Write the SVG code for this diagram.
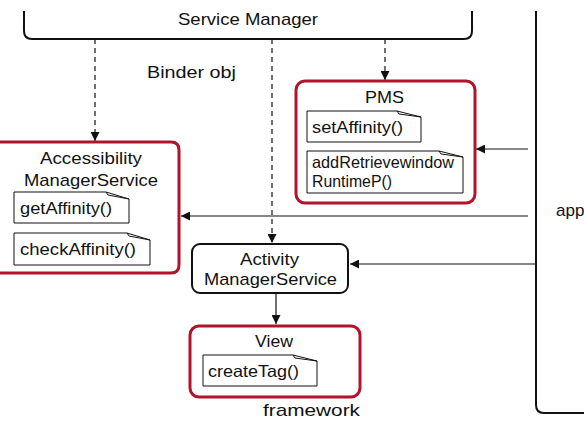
<svg xmlns="http://www.w3.org/2000/svg" width="584" height="421" viewBox="0 0 584 421">
<defs>
<style>
text{font-family:"Liberation Sans",Arial,sans-serif;fill:#111;font-size:17px;}
.n{font-size:16.5px;}
.red{fill:#fff;stroke:#b3122b;stroke-width:3;}
.blk{fill:#fff;stroke:#111;stroke-width:2;}
.note{fill:#fff;stroke:#111;stroke-width:1;}
.fold{fill:none;stroke:#111;stroke-width:1;}
.c{fill:none;stroke:#111;stroke-width:1.2;}
.d{fill:none;stroke:#111;stroke-width:1.2;stroke-dasharray:5,4;}
</style>
<marker id="ah" viewBox="0 0 10 10" refX="10" refY="5" markerWidth="9" markerHeight="9" markerUnits="userSpaceOnUse" orient="auto">
<path d="M0,0 L10,5 L0,10 Z" fill="#111"/>
</marker>
</defs>
<rect width="584" height="421" fill="#fff"/>

<g id="service-manager">
<path class="blk" fill="none" d="M24,11 V31 Q24,39 32,39 H464 Q472,39 472,31 V11"/>
<text x="178" y="25" textLength="140" lengthAdjust="spacingAndGlyphs">Service Manager</text>
</g>

<g id="app">
<path class="blk" fill="none" d="M536,11 V405 Q536,413 544,413 H586"/>
<text x="556" y="216">app</text>
</g>

<g id="connectors">
<path class="d" d="M95,39 V141" marker-end="url(#ah)"/>
<path class="d" d="M272,39 V243" marker-end="url(#ah)"/>
<path class="d" d="M385,39 V80" marker-end="url(#ah)"/>
<path class="c" d="M528,149 H476" marker-end="url(#ah)"/>
<path class="c" d="M528,216 H181" marker-end="url(#ah)"/>
<path class="c" d="M536,264 H350" marker-end="url(#ah)"/>
<path class="c" d="M276,293 V324" marker-end="url(#ah)"/>
</g>

<text x="147" y="77.5" textLength="89" lengthAdjust="spacingAndGlyphs">Binder obj</text>

<g id="accessibility">
<path class="red" d="M-10,142 H171 Q179,142 179,150 V265 Q179,273 171,273 H-10 Z"/>
<text x="40" y="164" textLength="102" lengthAdjust="spacingAndGlyphs">Accessibility</text>
<text x="24" y="186" textLength="134" lengthAdjust="spacingAndGlyphs">ManagerService</text>
<g>
<path class="note" d="M14,192 H106 L129,199 V223 H14 Z"/>
<path class="fold" d="M106,192 L108,195 L129,199"/>
<text class="n" x="20" y="214" textLength="92" lengthAdjust="spacingAndGlyphs">getAffinity()</text>
</g>
<g>
<path class="note" d="M14,233 H127 L150,240 V265 H14 Z"/>
<path class="fold" d="M127,233 L129,236 L150,240"/>
<text class="n" x="20" y="255" textLength="116" lengthAdjust="spacingAndGlyphs">checkAffinity()</text>
</g>
</g>

<g id="pms">
<rect class="red" x="296" y="81" width="179" height="122" rx="9"/>
<text x="365" y="103" textLength="39" lengthAdjust="spacingAndGlyphs">PMS</text>
<g>
<path class="note" d="M307,111 H397 L421,117 V142 H307 Z"/>
<path class="fold" d="M397,111 L399,114 L421,117"/>
<text class="n" x="312" y="133" textLength="91" lengthAdjust="spacingAndGlyphs">setAffinity()</text>
</g>
<g>
<path class="note" d="M307,151 H439 L463,157 V193 H307 Z"/>
<path class="fold" d="M439,151 L441,154 L463,157"/>
<text class="n" x="312" y="168" textLength="142" lengthAdjust="spacingAndGlyphs">addRetrievewindow</text>
<text class="n" x="312" y="187" textLength="80" lengthAdjust="spacingAndGlyphs">RuntimeP()</text>
</g>
</g>

<g id="activity">
<rect class="blk" x="192" y="244" width="156" height="49" rx="8"/>
<text x="240" y="265" textLength="59" lengthAdjust="spacingAndGlyphs">Activity</text>
<text x="204" y="285" textLength="133" lengthAdjust="spacingAndGlyphs">ManagerService</text>
</g>

<g id="view">
<rect class="red" x="190" y="326" width="170" height="71" rx="9"/>
<text x="255" y="347" textLength="38" lengthAdjust="spacingAndGlyphs">View</text>
<g>
<path class="note" d="M203,355 H293 L317,361 V386 H203 Z"/>
<path class="fold" d="M293,355 L295,358 L317,361"/>
<text class="n" x="208" y="377" textLength="91" lengthAdjust="spacingAndGlyphs">createTag()</text>
</g>
</g>

<text x="263" y="416" textLength="97" lengthAdjust="spacingAndGlyphs">framework</text>
</svg>
